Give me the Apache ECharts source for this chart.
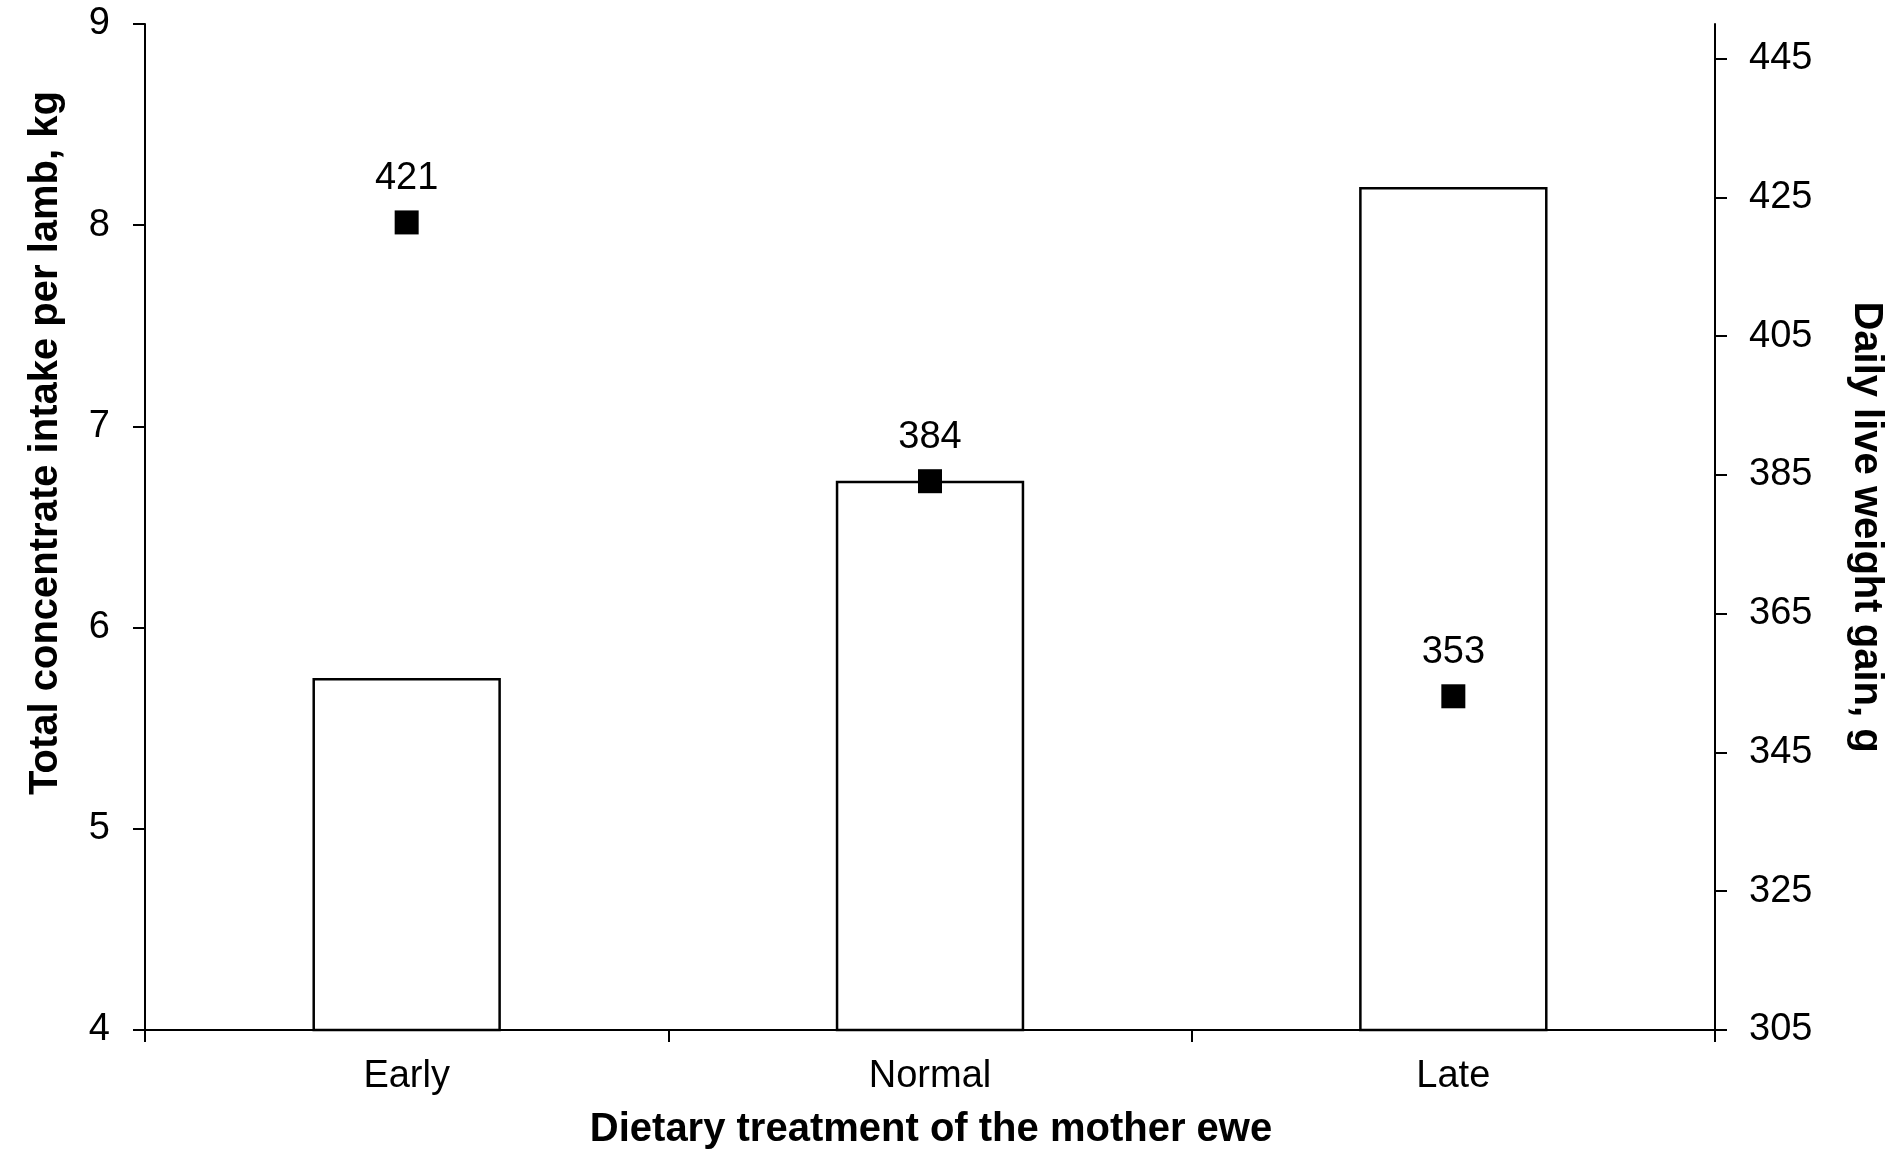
<!DOCTYPE html>
<html>
<head>
<meta charset="utf-8">
<script src="https://cdn.jsdelivr.net/npm/echarts@6/dist/echarts.min.js"></script>
<style>
html,body{margin:0;padding:0;background:#fff;}
#chart{width:1895px;height:1152px;}
</style>
</head>
<body>
<div id="chart"></div>
<script>
const categories = ['Early', 'Normal', 'Late'];
const intakeKg = [5.75, 6.73, 8.19];
const gainG = [421.4, 384.1, 353.1];
const leftTicks = [4, 5, 6, 7, 8, 9];
const rightTicks = [305, 325, 345, 365, 385, 405, 425, 445];
const xTitle = 'Dietary treatment of the mother ewe';
const leftTitle = 'Total concentrate intake per lamb, kg';
const rightTitle = 'Daily live weight gain, g';

const FONT = 'Liberation Sans, Arial, sans-serif';
const chart = echarts.init(document.getElementById('chart'), null, {renderer: 'canvas'});
const axisLine = {show: true, lineStyle: {color: '#000', width: 2}};
const axisTick = {show: true, inside: false, length: 12, lineStyle: {color: '#000', width: 2}};

chart.setOption({
  animation: false,
  backgroundColor: '#fff',
  grid: {left: 145, right: 180, top: 24, bottom: 122, containLabel: false},
  xAxis: {
    type: 'category',
    data: categories,
    boundaryGap: true,
    axisLine: axisLine,
    axisTick: Object.assign({}, axisTick, {alignWithLabel: false}),
    axisLabel: {color: '#000', fontSize: 38, fontFamily: FONT, margin: 28},
    splitLine: {show: false}
  },
  yAxis: [
    {
      type: 'value',
      position: 'left',
      min: leftTicks[0],
      max: leftTicks[leftTicks.length - 1],
      interval: 1,
      axisLine: axisLine,
      axisTick: axisTick,
      axisLabel: {color: '#000', fontSize: 38, fontFamily: FONT, margin: 35},
      splitLine: {show: false}
    },
    {
      type: 'value',
      position: 'right',
      min: 305,
      max: 450,
      axisLine: axisLine,
      axisTick: Object.assign({}, axisTick, {customValues: rightTicks}),
      axisLabel: {color: '#000', fontSize: 38, fontFamily: FONT, margin: 34, customValues: rightTicks},
      splitLine: {show: false}
    }
  ],
  series: [
    {
      type: 'bar',
      yAxisIndex: 0,
      data: intakeKg,
      barWidth: '36%',
      itemStyle: {color: '#fff', borderColor: '#000', borderWidth: 2.5},
      z: 2
    },
    {
      type: 'scatter',
      yAxisIndex: 1,
      data: gainG,
      symbol: 'rect',
      symbolSize: 24,
      itemStyle: {color: '#000', opacity: 1},
      label: {
        show: true, position: 'top', distance: 13, color: '#000', opacity: 1, fontSize: 38, fontFamily: FONT,
        formatter: function (p) { return String(Math.round(p.value)); }
      },
      z: 5
    }
  ],
  graphic: [
    {type: 'text', x: 931, y: 1130, style: {text: xTitle, font: 'bold 40px ' + FONT, fill: '#000', textAlign: 'center', textVerticalAlign: 'middle'}},
    {type: 'text', x: 46, y: 443, rotation: Math.PI / 2, style: {text: leftTitle, font: 'bold 40px ' + FONT, fill: '#000', textAlign: 'center', textVerticalAlign: 'middle'}},
    {type: 'text', x: 1866, y: 527, rotation: -Math.PI / 2, style: {text: rightTitle, font: 'bold 40px ' + FONT, fill: '#000', textAlign: 'center', textVerticalAlign: 'middle'}}
  ]
});
</script>
</body>
</html>
